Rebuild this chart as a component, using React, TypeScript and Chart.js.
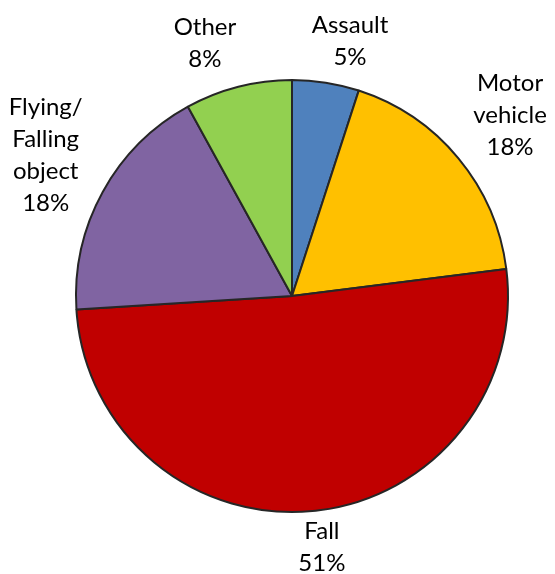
import React, { useEffect, useRef } from "react";
import { Chart, registerables } from "chart.js";

Chart.register(...registerables);

const categories = ["Assault", "Motor vehicle", "Fall", "Flying/ Falling object", "Other"];
const values = [5, 18, 51, 18, 8];
const labelLines = [
  ["Assault", "5%"],
  ["Motor", "vehicle", "18%"],
  ["Fall", "51%"],
  ["Flying/", "Falling", "object", "18%"],
  ["Other", "8%"],
];
const colors = ["#4F81BD", "#FFC000", "#C00000", "#8064A2", "#92D050"];

const FONT = '24px Lato, "Open Sans", sans-serif';
const LINE_H = 32;

const outsideLabels = {
  id: "outsideLabels",
  afterDatasetsDraw(chart: any, _args: any, opts: any) {
    const ctx = chart.ctx;
    const meta = chart.getDatasetMeta(0);
    const shifts: number[] = opts.angleShift || [];
    const gaps: number[] = opts.gap || [];
    ctx.save();
    ctx.font = FONT;
    ctx.fillStyle = "#000";
    ctx.textAlign = "center";
    ctx.textBaseline = "middle";
    meta.data.forEach((arc: any, i: number) => {
      const p = arc.getProps(["x", "y", "startAngle", "endAngle", "outerRadius"], true);
      const mid = (p.startAngle + p.endAngle) / 2 + ((shifts[i] || 0) * Math.PI) / 180;
      const ux = Math.cos(mid);
      const uy = Math.sin(mid);
      const lines = labelLines[i];
      let w = 0;
      lines.forEach((l) => (w = Math.max(w, ctx.measureText(l).width)));
      const hw = w / 2;
      const hh = (lines.length * LINE_H) / 2;
      const support = Math.abs(ux) * hw + Math.abs(uy) * hh;
      const d = p.outerRadius + (gaps[i] ?? 8) + support;
      const cx = p.x + ux * d;
      const cy = p.y + uy * d;
      lines.forEach((l, k) => {
        ctx.fillText(l, cx, cy - hh + LINE_H * (k + 0.5));
      });
    });
    ctx.restore();
  },
};

export default function App() {
  const ref = useRef<HTMLCanvasElement>(null);
  useEffect(() => {
    document.body.style.margin = "0";
    const chart = new Chart(ref.current!, {
      type: "pie",
      data: {
        labels: categories,
        datasets: [
          {
            data: values,
            backgroundColor: colors,
            borderColor: "#262626",
            borderWidth: 2,
            borderAlign: "center",
          },
        ],
      },
      options: {
        responsive: false,
        animation: false,
        layout: { padding: { left: 75, right: 46, top: 79, bottom: 61 } },
        plugins: {
          legend: { display: false },
          tooltip: { enabled: false },
          outsideLabels: {
            angleShift: [3.8, 0, -1.4, 1, -4.6],
            gap: [6, 8, 2, 4, 11],
          },
        } as any,
      },
      plugins: [outsideLabels],
    });
    return () => chart.destroy();
  }, []);
  return (
    <div style={{ width: 555, height: 574, background: "#fff" }}>
      <canvas ref={ref} width={555} height={574} style={{ display: "block" }} />
    </div>
  );
}
